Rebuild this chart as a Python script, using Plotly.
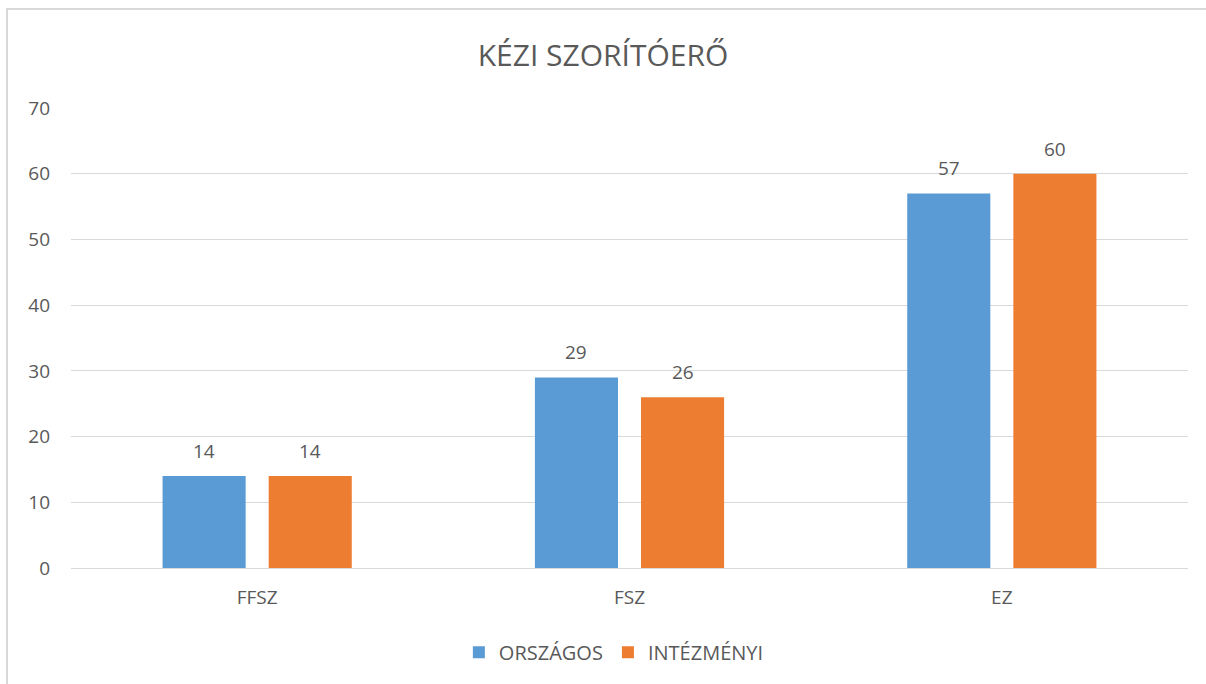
import plotly.graph_objects as go

categories = ["FFSZ", "FSZ", "EZ"]
orszagos = [14, 29, 57]
intezmenyi = [14, 26, 60]
series_names = ["ORSZÁGOS", "INTÉZMÉNYI"]
y_ticks = [0, 10, 20, 30, 40, 50, 60, 70]

GRAY = "#595959"
FONT = "Open Sans"
COLORS = ["#5B9BD5", "#ED7D31"]

W, H = 1206, 684
ML, MR, MT, MB = 71, 18, 108, 116
BARGAP, GROUPGAP = 0.43, 0.217

fig = go.Figure()
series = [orszagos, intezmenyi]
for name, vals, col in zip(series_names, series, COLORS):
    fig.add_trace(go.Bar(
        x=categories, y=vals, name=name, marker_color=col,
        marker_line_width=0, hoverinfo="x+y+name",
    ))

# data labels above bars (offset to each bar's centre within its group)
plot_w = W - ML - MR
cat_w = plot_w / len(categories)
slot = (1 - BARGAP) * cat_w / 2
for i, vals in enumerate(series):
    shift = (i - 0.5) * slot
    for c, v in zip(categories, vals):
        fig.add_annotation(x=c, y=v, text=str(v), showarrow=False,
                           xshift=shift, yshift=25, yanchor="middle",
                           font=dict(size=19, color=GRAY, family=FONT))

fig.update_layout(
    width=W, height=H,
    paper_bgcolor="white", plot_bgcolor="white",
    margin=dict(l=ML, r=MR, t=MT, b=MB),
    barmode="group", bargap=BARGAP, bargroupgap=GROUPGAP,
    font=dict(family=FONT, color=GRAY, size=19),
    title=dict(text="KÉZI SZORÍTÓERŐ", x=0.5, xanchor="center",
               y=1 - 55 / H, yanchor="middle",
               font=dict(size=30, color=GRAY, family=FONT)),
    legend=dict(orientation="h", x=0.486, xanchor="center",
                y=-0.183, yanchor="middle",
                font=dict(size=20, color=GRAY, family=FONT),
                traceorder="normal"),
    showlegend=True,
)
fig.update_yaxes(range=[0, 70], tickvals=y_ticks, showgrid=True,
                 gridcolor="#D9D9D9", gridwidth=1, zeroline=False,
                 showline=False, ticks="", ticklabelstandoff=20,
                 tickfont=dict(size=19, color=GRAY))
fig.update_xaxes(showline=True, linecolor="#D9D9D9", linewidth=1,
                 ticks="", tickfont=dict(size=19, color=GRAY),
                 ticklabelstandoff=12)

# outer chart border
fig.add_shape(type="rect", xref="paper", yref="paper",
              x0=(7 - ML) / plot_w, x1=(W + 10 - ML) / plot_w,
              y0=(H - MB - (H + 10)) / (H - MT - MB),
              y1=(H - MB - 9) / (H - MT - MB),
              line=dict(color="#D9D9D9", width=2), fillcolor="rgba(0,0,0,0)",
              layer="below")

fig.write_html("out.html", config={"displayModeBar": False},
               post_script="document.body.style.margin='0';document.body.style.overflow='hidden';")
